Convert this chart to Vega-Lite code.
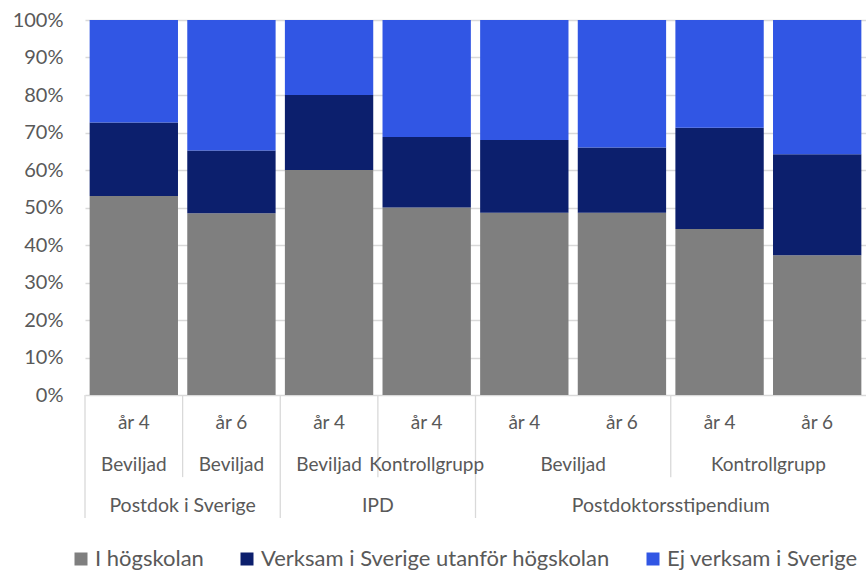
{
  "$schema": "https://vega.github.io/schema/vega-lite/v6.json",
  "autosize": {"type": "none"},
  "width": 781,
  "height": 375,
  "padding": {"left": 85, "top": 20, "right": 0, "bottom": 176},
  "background": "white",
  "config": {"view": {"stroke": null}, "font": "Lato",
             "axisY": {"title": null, "format": ".0%", "values": [0,0.1,0.2,0.3,0.4,0.5,0.6,0.7,0.8,0.9,1],
                       "labelOverlap": false, "domain": false, "ticks": false, "labelFontSize": 20, "labelColor": "#595959",
                       "labelPadding": 22, "gridColor": "#d9d9d9", "gridWidth": 1.3, "labelFont": "Lato"}},
  "datasets": {
    "andelar": [
      {"k": "1", "ar": "år 4", "nr": 1, "serie": "I högskolan", "andel": 53.1},
      {"k": "1", "ar": "år 4", "nr": 2, "serie": "Verksam i Sverige utanför högskolan", "andel": 19.6},
      {"k": "1", "ar": "år 4", "nr": 3, "serie": "Ej verksam i Sverige", "andel": 27.3},
      {"k": "2", "ar": "år 6", "nr": 1, "serie": "I högskolan", "andel": 48.5},
      {"k": "2", "ar": "år 6", "nr": 2, "serie": "Verksam i Sverige utanför högskolan", "andel": 16.7},
      {"k": "2", "ar": "år 6", "nr": 3, "serie": "Ej verksam i Sverige", "andel": 34.8},
      {"k": "3", "ar": "år 4", "nr": 1, "serie": "I högskolan", "andel": 60.0},
      {"k": "3", "ar": "år 4", "nr": 2, "serie": "Verksam i Sverige utanför högskolan", "andel": 20.0},
      {"k": "3", "ar": "år 4", "nr": 3, "serie": "Ej verksam i Sverige", "andel": 20.0},
      {"k": "4", "ar": "år 4", "nr": 1, "serie": "I högskolan", "andel": 50.0},
      {"k": "4", "ar": "år 4", "nr": 2, "serie": "Verksam i Sverige utanför högskolan", "andel": 18.8},
      {"k": "4", "ar": "år 4", "nr": 3, "serie": "Ej verksam i Sverige", "andel": 31.2},
      {"k": "5", "ar": "år 4", "nr": 1, "serie": "I högskolan", "andel": 48.6},
      {"k": "5", "ar": "år 4", "nr": 2, "serie": "Verksam i Sverige utanför högskolan", "andel": 19.4},
      {"k": "5", "ar": "år 4", "nr": 3, "serie": "Ej verksam i Sverige", "andel": 32.0},
      {"k": "6", "ar": "år 6", "nr": 1, "serie": "I högskolan", "andel": 48.6},
      {"k": "6", "ar": "år 6", "nr": 2, "serie": "Verksam i Sverige utanför högskolan", "andel": 17.4},
      {"k": "6", "ar": "år 6", "nr": 3, "serie": "Ej verksam i Sverige", "andel": 34.0},
      {"k": "7", "ar": "år 4", "nr": 1, "serie": "I högskolan", "andel": 44.3},
      {"k": "7", "ar": "år 4", "nr": 2, "serie": "Verksam i Sverige utanför högskolan", "andel": 27.0},
      {"k": "7", "ar": "år 4", "nr": 3, "serie": "Ej verksam i Sverige", "andel": 28.7},
      {"k": "8", "ar": "år 6", "nr": 1, "serie": "I högskolan", "andel": 37.3},
      {"k": "8", "ar": "år 6", "nr": 2, "serie": "Verksam i Sverige utanför högskolan", "andel": 26.9},
      {"k": "8", "ar": "år 6", "nr": 3, "serie": "Ej verksam i Sverige", "andel": 35.8}
    ],
    "grupper": [
      {"k": "1", "text": "Beviljad", "niva": 2, "spann": 1},
      {"k": "2", "text": "Beviljad", "niva": 2, "spann": 1},
      {"k": "3", "text": "Beviljad", "niva": 2, "spann": 1},
      {"k": "4", "text": "Kontrollgrupp", "niva": 2, "spann": 1},
      {"k": "6", "text": "Beviljad", "niva": 2, "spann": 2},
      {"k": "8", "text": "Kontrollgrupp", "niva": 2, "spann": 2},
      {"k": "2", "text": "Postdok i Sverige", "niva": 3, "spann": 2},
      {"k": "4", "text": "IPD", "niva": 3, "spann": 2},
      {"k": "7", "text": "Postdoktorsstipendium", "niva": 3, "spann": 4}
    ],
    "avdelare": [
      {"k": "1", "djup": 3},
      {"k": "2", "djup": 2},
      {"k": "3", "djup": 3},
      {"k": "4", "djup": 2},
      {"k": "5", "djup": 3},
      {"k": "7", "djup": 2}
    ]
  },
  "layer": [
    {
      "data": {"name": "andelar"},
      "mark": {"type": "bar", "width": {"band": 0.905}},
      "encoding": {
        "x": {"field": "k", "type": "nominal", "sort": null, "axis": null,
              "scale": {"domain": ["1","2","3","4","5","6","7","8"], "paddingInner": 0, "paddingOuter": 0}},
        "y": {"field": "andel", "type": "quantitative", "stack": "normalize",
              "scale": {"domain": [0, 1], "nice": false}},
        "color": {"field": "serie", "type": "nominal",
                  "scale": {"domain": ["I högskolan", "Verksam i Sverige utanför högskolan", "Ej verksam i Sverige"],
                            "range": ["#7f7f7f", "#0c1f6d", "#3156e4"]},
                  "legend": {"title": null, "orient": "none", "direction": "horizontal", "columns": 3,
                             "legendX": -15, "legendY": 528, "symbolType": "square", "symbolSize": 169,
                             "symbolStrokeWidth": 0, "symbolOpacity": 1, "labelFontSize": 22, "labelColor": "#595959",
                             "labelFont": "Lato", "labelOffset": 3, "columnPadding": 32, "labelLimit": 500}},
        "order": {"field": "nr", "type": "quantitative", "sort": "ascending"}
      }
    },
    {
      "data": {"name": "avdelare"},
      "transform": [{"filter": "datum.djup == 3"}],
      "mark": {"type": "rule", "color": "#d9d9d9", "strokeWidth": 1.3},
      "encoding": {
        "x": {"field": "k", "type": "nominal", "bandPosition": 0,
              "scale": {"domain": ["1","2","3","4","5","6","7","8"], "paddingInner": 0, "paddingOuter": 0}},
        "y": {"datum": 0, "type": "quantitative", "scale": {"domain": [0, 1], "nice": false}},
        "y2": {"datum": -0.328}
      }
    },
    {
      "data": {"name": "avdelare"},
      "transform": [{"filter": "datum.djup == 2"}],
      "mark": {"type": "rule", "color": "#d9d9d9", "strokeWidth": 1.3},
      "encoding": {
        "x": {"field": "k", "type": "nominal", "bandPosition": 0,
              "scale": {"domain": ["1","2","3","4","5","6","7","8"], "paddingInner": 0, "paddingOuter": 0}},
        "y": {"datum": 0, "type": "quantitative", "scale": {"domain": [0, 1], "nice": false}},
        "y2": {"datum": -0.219}
      }
    },
    {
      "data": {"name": "andelar"},
      "transform": [{"filter": "datum.nr == 1"}],
      "mark": {"type": "text", "fontSize": 19, "color": "#595959", "baseline": "middle", "align": "center", "font": "Lato"},
      "encoding": {
        "x": {"field": "k", "type": "nominal", "bandPosition": 0.5,
              "scale": {"domain": ["1","2","3","4","5","6","7","8"], "paddingInner": 0, "paddingOuter": 0}},
        "y": {"datum": -0.0755, "type": "quantitative", "scale": {"domain": [0, 1], "nice": false}},
        "text": {"field": "ar"}
      }
    },
    {
      "data": {"name": "grupper"},
      "transform": [{"filter": "datum.niva == 2 && datum.spann == 1"}],
      "mark": {"type": "text", "fontSize": 19, "color": "#595959", "baseline": "middle", "align": "center", "font": "Lato"},
      "encoding": {
        "x": {"field": "k", "type": "nominal", "bandPosition": 0.5,
              "scale": {"domain": ["1","2","3","4","5","6","7","8"], "paddingInner": 0, "paddingOuter": 0}},
        "y": {"datum": -0.1867, "type": "quantitative", "scale": {"domain": [0, 1], "nice": false}},
        "text": {"field": "text"}
      }
    },
    {
      "data": {"name": "grupper"},
      "transform": [{"filter": "datum.niva == 2 && datum.spann == 2"}],
      "mark": {"type": "text", "fontSize": 19, "color": "#595959", "baseline": "middle", "align": "center", "font": "Lato"},
      "encoding": {
        "x": {"field": "k", "type": "nominal", "bandPosition": 0,
              "scale": {"domain": ["1","2","3","4","5","6","7","8"], "paddingInner": 0, "paddingOuter": 0}},
        "y": {"datum": -0.1867, "type": "quantitative", "scale": {"domain": [0, 1], "nice": false}},
        "text": {"field": "text"}
      }
    },
    {
      "data": {"name": "grupper"},
      "transform": [{"filter": "datum.niva == 3"}],
      "mark": {"type": "text", "fontSize": 19.5, "color": "#595959", "baseline": "middle", "align": "center", "font": "Lato"},
      "encoding": {
        "x": {"field": "k", "type": "nominal", "bandPosition": 0,
              "scale": {"domain": ["1","2","3","4","5","6","7","8"], "paddingInner": 0, "paddingOuter": 0}},
        "y": {"datum": -0.296, "type": "quantitative", "scale": {"domain": [0, 1], "nice": false}},
        "text": {"field": "text"}
      }
    }
  ]
}
